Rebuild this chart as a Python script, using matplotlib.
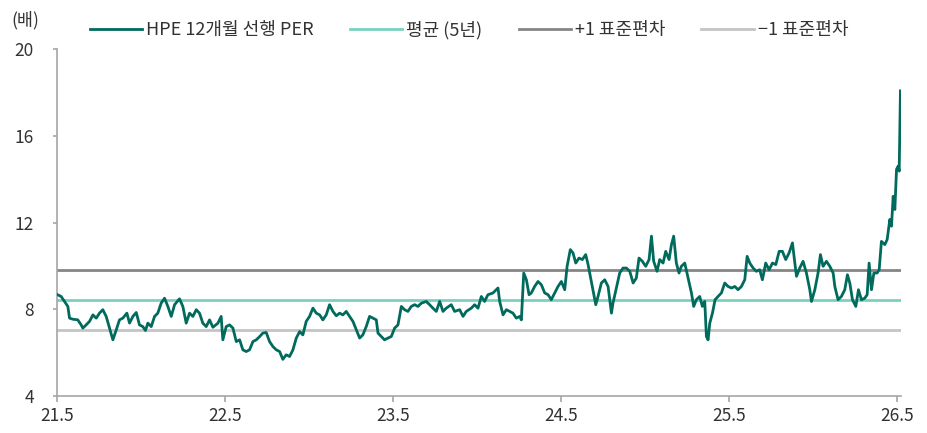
import matplotlib
matplotlib.use("Agg")
import matplotlib.pyplot as plt

plt.rcParams['font.family'] = ['Noto Sans CJK KR', 'DejaVu Sans']

# months since 2021-05 (x) and 12M forward PER (y)
months = [0.0, 0.26, 0.50, 0.74, 0.86, 1.10, 1.45, 1.69, 1.81, 2.05, 2.29, 2.53, 2.77, 3.00, 3.24,
          3.48, 3.72, 3.96, 4.20, 4.43, 4.67, 4.96, 5.15, 5.39, 5.63, 5.86, 6.10, 6.29, 6.46, 6.70,
          6.94, 7.17, 7.41, 7.65, 7.89, 8.13, 8.37, 8.72, 8.96, 9.20, 9.44, 9.68, 9.92, 10.15, 10.39,
          10.63, 10.87, 11.11, 11.47, 11.70, 11.82, 12.06, 12.30, 12.54, 12.78, 13.02, 13.25, 13.49,
          13.73, 13.97, 14.21, 14.45, 14.68, 14.92, 15.16, 15.40, 15.64, 15.88, 16.11, 16.35, 16.59,
          16.83, 17.07, 17.31, 17.54, 17.78, 18.02, 18.26, 18.50, 18.74, 18.97, 19.21, 19.45, 19.69,
          19.93, 20.17, 20.40, 20.64, 20.88, 21.12, 21.36, 21.60, 21.83, 22.07, 22.31, 22.55, 22.79,
          22.91, 23.15, 23.38, 23.62, 23.86, 24.10, 24.34, 24.58, 24.81, 25.05, 25.29, 25.53, 25.77,
          26.01, 26.36, 26.60, 26.84, 27.08, 27.32, 27.56, 27.79, 28.15, 28.39, 28.75, 28.99, 29.22,
          29.58, 29.82, 30.06, 30.30, 30.53, 30.77, 31.13, 31.49, 31.61, 31.85, 32.09, 32.32, 32.56,
          32.80, 33.04, 33.16, 33.33, 33.52, 33.71, 33.87, 34.11, 34.35, 34.59, 34.83, 35.07, 35.30,
          35.54, 35.78, 36.02, 36.26, 36.43, 36.66, 36.85, 37.05, 37.28, 37.52, 37.76, 37.93, 38.09,
          38.28, 38.48, 38.64, 38.88, 39.12, 39.36, 39.60, 39.71, 39.95, 40.19, 40.43, 40.67, 40.91,
          41.15, 41.38, 41.57, 41.81, 42.05, 42.29, 42.46, 42.62, 42.86, 43.05, 43.29, 43.48, 43.72,
          43.89, 44.05, 44.24, 44.43, 44.60, 44.84, 45.08, 45.32, 45.48, 45.67, 45.91, 46.10, 46.27,
          46.39, 46.51, 46.63, 46.82, 47.01, 47.22, 47.46, 47.70, 47.94, 48.18, 48.42, 48.65, 48.89,
          49.13, 49.30, 49.49, 49.73, 49.96, 50.20, 50.39, 50.63, 50.87, 51.11, 51.35, 51.59, 51.82,
          52.06, 52.30, 52.54, 52.71, 52.83, 53.06, 53.30, 53.54, 53.78, 53.90, 54.14, 54.37, 54.54,
          54.73, 54.97, 55.21, 55.45, 55.57, 55.80, 56.04, 56.28, 56.47, 56.64, 56.83, 57.07, 57.26,
          57.47, 57.71, 57.88, 58.02, 58.19, 58.36, 58.59, 58.74, 58.90, 59.14, 59.31, 59.50, 59.62,
          59.74, 59.86, 59.98, 60.10, 60.17, 60.26]

per = [8.67, 8.59, 8.36, 8.13, 7.59, 7.54, 7.51, 7.28, 7.13, 7.28, 7.44, 7.74, 7.59, 7.82, 7.98,
       7.67, 7.13, 6.59, 7.05, 7.51, 7.59, 7.82, 7.36, 7.67, 7.85, 7.28, 7.20, 7.02, 7.36, 7.20,
       7.67, 7.82, 8.28, 8.51, 8.13, 7.67, 8.21, 8.48, 8.13, 7.36, 7.82, 7.67, 7.98, 7.82, 7.36,
       7.20, 7.51, 7.17, 7.36, 7.67, 6.59, 7.20, 7.28, 7.13, 6.51, 6.59, 6.13, 6.05, 6.13, 6.51,
       6.59, 6.74, 6.90, 6.93, 6.51, 6.28, 6.13, 6.05, 5.69, 5.90, 5.82, 6.13, 6.67, 6.97, 6.82,
       7.44, 7.67, 8.05, 7.82, 7.74, 7.51, 7.74, 8.21, 7.90, 7.70, 7.82, 7.74, 7.90, 7.67, 7.44,
       7.05, 6.67, 6.82, 7.20, 7.67, 7.59, 7.51, 6.90, 6.74, 6.59, 6.67, 6.74, 7.13, 7.28, 8.13,
       7.98, 7.90, 8.13, 8.21, 8.13, 8.28, 8.36, 8.21, 8.05, 7.90, 8.36, 7.90, 8.05, 8.21, 7.90,
       7.98, 7.67, 7.90, 8.05, 8.21, 8.05, 8.59, 8.36, 8.67, 8.75, 8.98, 8.36, 7.74, 7.98, 7.90,
       7.82, 7.59, 7.67, 7.51, 9.67, 9.36, 8.67, 8.75, 9.05, 9.28, 9.13, 8.75, 8.67, 8.44, 8.75,
       9.05, 9.28, 8.90, 9.98, 10.75, 10.60, 10.13, 10.36, 10.29, 10.52, 10.06, 9.52, 8.90, 8.21,
       8.59, 9.21, 9.36, 9.05, 7.82, 8.28, 8.98, 9.67, 9.90, 9.90, 9.75, 9.21, 9.44, 10.36, 10.21,
       9.98, 10.29, 11.37, 10.21, 9.75, 10.29, 10.13, 10.67, 10.29, 10.98, 11.37, 10.13, 9.67, 9.98,
       10.13, 9.44, 8.75, 8.13, 8.44, 8.59, 8.13, 8.36, 6.74, 6.59, 7.36, 7.82, 8.44, 8.59, 8.75,
       9.21, 9.05, 8.98, 9.05, 8.90, 9.05, 9.36, 10.44, 10.13, 9.90, 9.75, 9.82, 9.36, 10.13, 9.82,
       10.13, 10.06, 10.67, 10.67, 10.29, 10.60, 11.06, 10.13, 9.52, 9.90, 10.21, 9.67, 8.90, 8.36,
       8.90, 9.67, 10.52, 9.98, 10.21, 9.98, 9.67, 9.05, 8.44, 8.59, 8.90, 9.59, 9.21, 8.44, 8.13,
       8.90, 8.44, 8.51, 8.67, 10.13, 8.90, 9.67, 9.67, 9.82, 11.13, 10.98, 11.21, 12.14, 11.83,
       13.21, 12.60, 14.45, 14.60, 14.37, 18.07]

mean_5y = 8.43
plus_1sd = 9.81
minus_1sd = 7.05

xtick_pos = [0, 12, 24, 36, 48, 60]
xtick_labels = ['21.5', '22.5', '23.5', '24.5', '25.5', '26.5']
ytick_vals = [4, 8, 12, 16, 20]

labels = ['HPE 12개월 선행 PER', '평균 (5년)', '+1 표준편차', '\u22121 표준편차']
c_series = '#006B5D'
c_mean = '#79D2C0'
c_plus = '#858585'
c_minus = '#C4C4C4'

fig = plt.figure(figsize=(9.28, 4.33), dpi=100)
ax = fig.add_axes([57.5 / 928, 1 - 396 / 433, (901 - 57.5) / 928, (396 - 49) / 433])

x0, x1 = 0, 60.3
h1, = ax.plot([x0, x1], [mean_5y, mean_5y], color=c_mean, lw=2.0, zorder=2)
h2, = ax.plot([x0, x1], [plus_1sd, plus_1sd], color=c_plus, lw=2.0, zorder=2)
h3, = ax.plot([x0, x1], [minus_1sd, minus_1sd], color=c_minus, lw=2.0, zorder=2)
h0, = ax.plot(months, per, color=c_series, lw=2.0, zorder=3)

ax.set_xlim(x0, x1)
ax.set_ylim(4, 20)
ax.set_xticks(xtick_pos)
ax.set_xticklabels(xtick_labels)
ax.set_yticks(ytick_vals)
ax.set_yticklabels([str(v) for v in ytick_vals])

for s in ['top', 'right']:
    ax.spines[s].set_visible(False)
for s in ['left', 'bottom']:
    ax.spines[s].set_color('#A6A6A6')
    ax.spines[s].set_linewidth(1.2)
ax.tick_params(axis='both', colors='#A6A6A6', labelcolor='#333333', labelsize=12.5,
               width=1.2, direction='out')
ax.tick_params(axis='y', length=3, pad=14)
ax.tick_params(axis='x', length=4, pad=4)

fig.text(25 / 928, 1 - 20 / 433, '(배)', fontsize=12.5, color='#333333', va='center', ha='center')

fig.legend([h0, h1, h2, h3], labels, loc='center left', bbox_to_anchor=(90 / 928, 1 - 30 / 433),
           ncol=4, frameon=False, fontsize=13, handlelength=2.9, handletextpad=0.22,
           columnspacing=2.0, labelcolor='#333333', borderaxespad=0, borderpad=0)

fig.savefig('out.png', dpi=100)
